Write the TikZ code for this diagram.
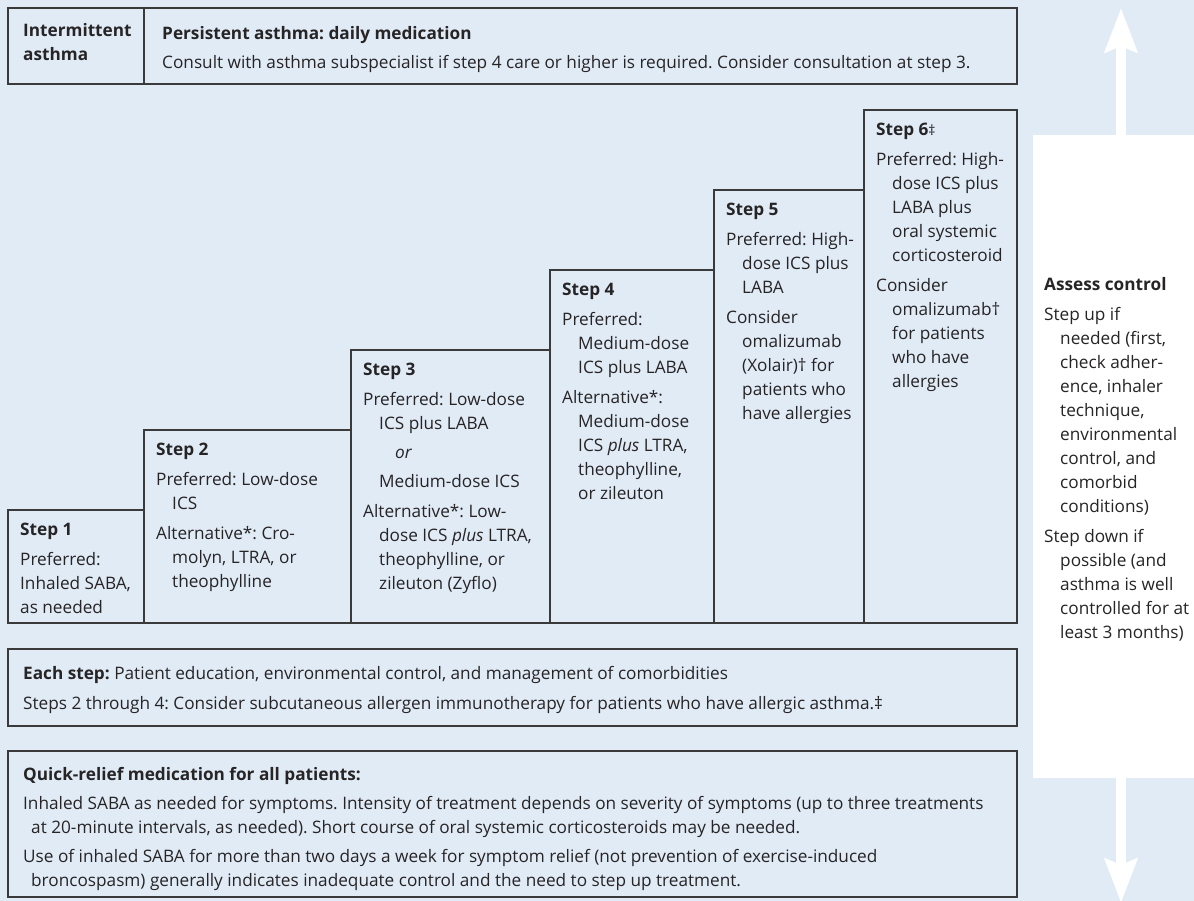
\documentclass[tikz,border=0pt]{standalone}
\usepackage{fontspec}
\setmainfont{Open Sans}
\usetikzlibrary{arrows.meta}
\definecolor{bgblue}{RGB}{225,235,246}
\definecolor{linegray}{RGB}{58,58,58}
\definecolor{txtgray}{RGB}{38,36,37}
\newcommand{\ind}{\hspace*{16pt}}
\newcommand{\fs}{\fontsize{17.2}{24}\selectfont\frenchspacing}

\begin{document}
\begin{tikzpicture}[x=1pt,y=-1pt]
\tikzstyle{frame}=[draw=linegray, line width=1.3pt]
\tikzstyle{txt}=[anchor=north west, inner sep=0pt, align=left, font=\fs, text=txtgray]
\tikzstyle{updown}=[white, line width=10pt, -{Stealth[length=44pt,width=32pt,inset=6pt]}]
\useasboundingbox (0,0) rectangle (1194,901);
\fill[bgblue] (0,0) rectangle (1194,901);
\node[fill=white, inner sep=0pt, minimum width=161pt, minimum height=643pt, anchor=north west] (assess) at (1033,135) {};
\coordinate (uptip) at (1121,8);
\coordinate (dntip) at (1121,903);
\draw[updown] (assess.north -| uptip) -- (uptip);
\draw[updown] (assess.south -| dntip) -- (dntip);

\draw[frame] (8,8) rectangle (1017,84);
\draw[frame] (144,8) -- (144,84);
\node[txt] (intermittent) at (23,19.2) {\textbf{Intermittent}\strut\\\textbf{asthma}};
\node[txt] (persistent) at (162,22.2) {\textbf{Persistent asthma: daily medication}\strut\\[5pt]
  Consult with asthma subspecialist if step 4 care or higher is required. Consider consultation at step 3.};

\draw[frame] (8,510) rectangle (144,623);
\draw[frame] (144,430) rectangle (351,623);
\draw[frame] (351,350) rectangle (550,623);
\draw[frame] (550,270) rectangle (714,623);
\draw[frame] (714,190) rectangle (864,623);
\draw[frame] (864,110) rectangle (1017,623);

\node[txt] (step1) at (20,518.2) {\textbf{Step 1}\strut\\[6pt]
  Preferred:\\Inhaled SABA,\\as needed};
\node[txt] (step2) at (156,438.2) {\textbf{Step 2}\strut\\[6pt]
  Preferred: Low-dose\\\ind ICS\\[6pt]
  Alternative*: Cro-\\\ind molyn, LTRA, or\\\ind theophylline};
\node[txt] (step3) at (363,358.2) {\textbf{Step 3}\strut\\[6pt]
  Preferred: Low-dose\\\ind ICS plus LABA\\[5pt]
  \hspace*{32pt}\textit{or}\\[5pt]
  \ind Medium-dose ICS\\[6pt]
  Alternative*: Low-\\\ind dose ICS \textit{plus} LTRA,\\\ind theophylline, or\\\ind zileuton (Zyflo)};
\node[txt] (step4) at (562,278.2) {\textbf{Step 4}\strut\\[6pt]
  Preferred:\\\ind Medium-dose\\\ind ICS plus LABA\\[6pt]
  Alternative*:\\\ind Medium-dose\\\ind ICS \textit{plus} LTRA,\\\ind theophylline,\\\ind or zileuton};
\node[txt] (step5) at (726,198.2) {\textbf{Step 5}\strut\\[6pt]
  Preferred: High-\\\ind dose ICS plus\\\ind LABA\\[6pt]
  Consider\\\ind omalizumab\\\ind (Xolair)† for\\\ind patients who\\\ind have allergies};
\node[txt] (step6) at (876,118.2) {\textbf{Step 6}{\fontsize{14}{24}\selectfont ‡}\strut\\[6pt]
  Preferred: High-\\\ind dose ICS plus\\\ind LABA plus\\\ind oral systemic\\\ind corticosteroid\\[6pt]
  Consider\\\ind omalizumab†\\\ind for patients\\\ind who have\\\ind allergies};

\node[txt] (control) at (1044,273.2) {\textbf{Assess control}\strut\\[6pt]
  Step up if\\\ind needed (first,\\\ind check adher-\\\ind ence, inhaler\\\ind technique,\\\ind environmental\\\ind control, and\\\ind comorbid\\\ind conditions)\\[6pt]
  Step down if\\\ind possible (and\\\ind asthma is well\\\ind controlled for at\\\ind least 3 months)};

\draw[frame] (8,649) rectangle (1017,726);
\node[txt] (eachstep) at (23,662.2) {\textbf{Each step:} Patient education, environmental control, and management of comorbidities\strut\\[6pt]
  Steps 2 through 4: Consider subcutaneous allergen immunotherapy for patients who have allergic asthma.‡};

\draw[frame] (8,751) rectangle (1017,897);
\node[txt] (quickrelief) at (23,763.2) {\textbf{Quick-relief medication for all patients:}\strut\\[5pt]
  Inhaled SABA as needed for symptoms. Intensity of treatment depends on severity of symptoms (up to three treatments\\
  \hspace*{8pt}at 20-minute intervals, as needed). Short course of oral systemic corticosteroids may be needed.\\[5pt]
  Use of inhaled SABA for more than two days a week for symptom relief (not prevention of exercise-induced\\
  \hspace*{8pt}broncospasm) generally indicates inadequate control and the need to step up treatment.};
\end{tikzpicture}
\end{document}
